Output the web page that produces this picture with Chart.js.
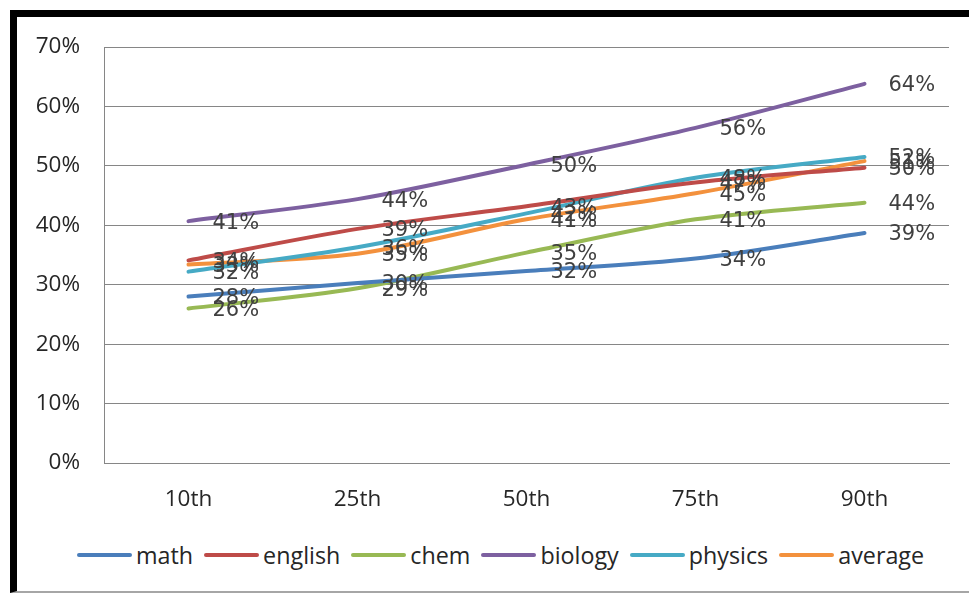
<!DOCTYPE html>
<html>
<head>
<meta charset="utf-8">
<script src="https://cdn.jsdelivr.net/npm/chart.js@4.4.1/dist/chart.umd.min.js"></script>
<style>
  html, body { margin: 0; padding: 0; background: #fff; overflow: hidden; }
  #frame {
    position: absolute; left: 10px; top: 10px; width: 1000px; height: 574px;
    border-top: 7px solid #000; border-left: 7px solid #000; border-bottom: 2px solid #a6a6a6;
  }
  #wrap { position: absolute; left: 17px; top: 17px; width: 952px; height: 513px; }
  #legend {
    position: absolute; left: 77px; top: 541px; height: 28px;
    display: flex; align-items: center;
    font-family: "Open Sans", sans-serif; font-size: 23.3px; color: #262626;
  }
  .item { display: flex; align-items: center; margin-right: 11px; }
  .swatch { width: 55px; height: 4px; border-radius: 2px; margin-right: 4px; }
</style>
</head>
<body>
<div id="frame"></div>
<div id="wrap"><canvas id="chart_lineas"></canvas></div>
<div id="legend"></div>

<script>
// datos (porcentaje)
var percentiles = ['10th', '25th', '50th', '75th', '90th'];
var math    = [28.0, 30.3, 32.3, 34.4, 38.7];
var english = [34.1, 39.4, 43.2, 47.2, 49.7];
var chem    = [26.0, 29.4, 35.4, 41.0, 43.8];
var biology = [40.7, 44.4, 50.2, 56.4, 63.8];
var physics = [32.2, 36.3, 42.0, 48.0, 51.5];
var average = [33.4, 35.2, 41.0, 45.4, 50.8];

var chart_lineas;

// etiquetas de datos a la derecha de cada punto
var etiquetas = {
  id: 'etiquetas',
  afterDatasetsDraw: function (chart) {
    var ctx = chart.ctx;
    ctx.save();
    ctx.font = '21px "DejaVu Sans"';
    ctx.fillStyle = '#404040';
    ctx.textAlign = 'left';
    ctx.textBaseline = 'middle';
    chart.data.datasets.forEach(function (ds, i) {
      chart.getDatasetMeta(i).data.forEach(function (pt, j) {
        ctx.fillText(Math.round(ds.data[j]) + '%', pt.x + 24, pt.y + 2);
      });
    });
    ctx.restore();
  }
};

function serie(label, data, color) {
  return {
    label: label,
    data: data,
    borderColor: color,
    backgroundColor: color,
    borderWidth: 4,
    borderCapStyle: 'round',
    pointRadius: 0,
    tension: 0.3,
    fill: false
  };
}

function init() {
  var chart_div = document.getElementById('chart_lineas');

  chart_lineas = new Chart(chart_div, {
    type: 'line',
    data: {
      labels: percentiles,
      datasets: [
        serie('math', math, '#4a7ebb'),
        serie('english', english, '#be4b48'),
        serie('chem', chem, '#98b954'),
        serie('biology', biology, '#7d60a0'),
        serie('physics', physics, '#46aac5'),
        serie('average', average, '#f3913d')
      ]
    },
    options: {
      responsive: true,
      maintainAspectRatio: false,
      animation: false,
      layout: { padding: { top: 30, right: 20, bottom: 0, left: 0 } },
      plugins: { legend: { display: false }, tooltip: { enabled: false } },
      scales: {
        x: {
          offset: true,
          afterFit: function (s) { s.height = 67; },
          grid: { display: false, drawTicks: false },
          border: { display: true, color: '#868686', width: 1 },
          ticks: { padding: 23, color: '#262626', font: { family: 'Open Sans', size: 22.5 } }
        },
        y: {
          min: 0, max: 70,
          afterFit: function (s) { s.width = 87; s.paddingTop = 14; s.paddingBottom = 14; },
          grid: { color: '#868686', lineWidth: 1, drawTicks: false },
          border: { display: true, color: '#868686', width: 1 },
          ticks: {
            stepSize: 10, padding: 24, color: '#262626',
            font: { family: 'Open Sans', size: 22.5 },
            callback: function (v) { return v + '%'; }
          }
        }
      }
    },
    plugins: [etiquetas]
  });

  // leyenda en html
  var leyenda = document.getElementById('legend');
  chart_lineas.data.datasets.forEach(function (ds) {
    var item = document.createElement('span');
    item.className = 'item';
    item.innerHTML = '<span class="swatch" style="background:' + ds.borderColor + '"></span>' + ds.label;
    leyenda.appendChild(item);
  });
}

init();
</script>
</body>
</html>
